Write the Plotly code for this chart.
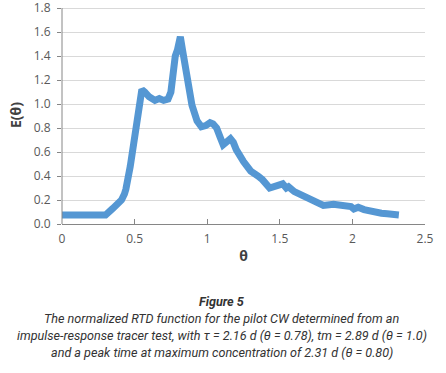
import plotly.graph_objects as go

theta = [0.00, 0.10, 0.20, 0.30, 0.35, 0.41, 0.43, 0.44, 0.47, 0.50, 0.52, 0.54, 0.55, 0.57,
         0.60, 0.64, 0.67, 0.70, 0.73, 0.75, 0.765, 0.78, 0.795, 0.815, 0.83, 0.845, 0.87,
         0.895, 0.93, 0.96, 0.99, 1.02, 1.04, 1.065, 1.09, 1.11, 1.13, 1.16, 1.18, 1.20,
         1.25, 1.30, 1.35, 1.38, 1.43, 1.48, 1.52, 1.545, 1.56, 1.60, 1.65, 1.70, 1.73,
         1.78, 1.80, 1.87, 1.93, 1.99, 2.01, 2.04, 2.08, 2.12, 2.15, 2.20, 2.24, 2.28, 2.32]
e_theta = [0.075, 0.075, 0.075, 0.075, 0.13, 0.20, 0.25, 0.29, 0.48, 0.75, 0.92, 1.08, 1.12, 1.10,
           1.06, 1.03, 1.045, 1.03, 1.04, 1.10, 1.30, 1.40, 1.45, 1.56, 1.45, 1.32, 1.17,
           0.99, 0.86, 0.81, 0.82, 0.845, 0.835, 0.80, 0.72, 0.66, 0.68, 0.71, 0.68, 0.62,
           0.52, 0.44, 0.40, 0.37, 0.30, 0.32, 0.335, 0.30, 0.31, 0.27, 0.24, 0.22, 0.20,
           0.17, 0.155, 0.165, 0.155, 0.145, 0.125, 0.14, 0.12, 0.105, 0.095, 0.09, 0.085, 0.075, 0.075]

x_ticks = [0, 0.5, 1, 1.5, 2, 2.5]
x_tick_labels = ["0", "0.5", "1", "1.5", "2", "2.5"]
y_ticks = [0.0, 0.2, 0.4, 0.6, 0.8, 1.0, 1.2, 1.4, 1.6, 1.8]
y_tick_labels = ["0.0", "0.2", "0.4", "0.6", "0.8", "1.0", "1.2", "1.4", "1.6", "1.8"]

caption_lines = [
    "<b>Figure 5</b>",
    "The normalized RTD function for the pilot CW determined from an",
    "impulse-response tracer test, with τ = 2.16 d (θ = 0.78), tm = 2.89 d (θ = 1.0)",
    "and a peak time at maximum concentration of 2.31 d (θ = 0.80)",
]

fig = go.Figure()
fig.add_trace(go.Scatter(x=theta, y=e_theta, mode="lines",
                         line=dict(color="#5597d3", width=7), showlegend=False))

tick_font = dict(family="Open Sans", size=12, color="#595959")
fig.update_layout(
    width=446, height=373,
    margin=dict(l=62, r=21, t=6, b=149),
    paper_bgcolor="white", plot_bgcolor="white",
    xaxis=dict(range=[0, 2.5], tickvals=x_ticks, ticktext=x_tick_labels, automargin=False,
               showgrid=False, zeroline=False, showline=True, linecolor="#868686", linewidth=1,
               ticks="inside", ticklen=5, tickcolor="#868686", tickfont=tick_font,
               ticklabelstandoff=4, ticklabeloverflow="allow",
               title=dict(text="<b>θ</b>", font=dict(family="Open Sans", size=14, color="#404040"),
                          standoff=4)),
    yaxis=dict(range=[0, 1.8 * 218 / 216], tickvals=y_ticks, ticktext=y_tick_labels, automargin=False,
               showgrid=True, gridcolor="#d9d9d9", gridwidth=1, zeroline=False,
               showline=False,
               ticks="outside", ticklen=4, tickcolor="#868686", tickfont=tick_font,
               ticklabelstandoff=4, ticklabeloverflow="allow",
               title=dict(text="<b>E(θ)</b>", font=dict(family="Open Sans", size=14, color="#404040"),
                          standoff=8)),
)
# visible y axis line from 0 to 1.8 (axis spine)
fig.add_shape(type="line", xref="paper", yref="y", x0=0, x1=0, y0=0, y1=1.8,
              line=dict(color="#868686", width=1))

line_px = [301, 318, 335, 352]
for txt, ypx in zip(caption_lines, line_px):
    fig.add_annotation(text=txt, xref="paper", yref="paper", x=(221.5 - 62) / 363,
                       y=(224 - ypx) / 218, xanchor="center", yanchor="middle",
                       showarrow=False,
                       font=dict(family="Roboto", size=12.6, color="#333333", style="italic"))

fig.write_html("out.html", config={"displayModeBar": False},
               post_script="document.body.style.margin='0';document.body.style.overflow='hidden';")
